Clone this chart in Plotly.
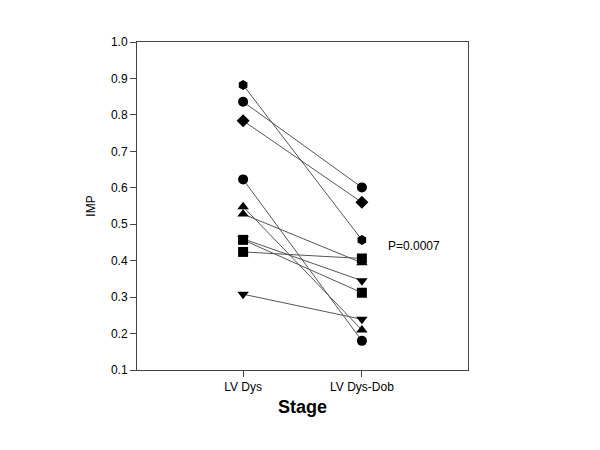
import plotly.graph_objects as go

stages = ["LV Dys", "LV Dys-Dob"]
symbols = ["hexagon", "circle", "diamond", "circle", "triangle-up",
           "triangle-up", "triangle-down", "square", "square", "triangle-down"]
imp_dys = [0.882, 0.836, 0.784, 0.623, 0.548, 0.528, 0.460, 0.457, 0.424, 0.308]
imp_dob = [0.457, 0.601, 0.560, 0.180, 0.210, 0.394, 0.345, 0.312, 0.406, 0.239]
p_text = "P=0.0007"

fig = go.Figure()
for sym, a, b in zip(symbols, imp_dys, imp_dob):
    fig.add_trace(go.Scatter(
        x=[0, 1], y=[a, b], mode="lines+markers",
        line=dict(color="#555555", width=1),
        marker=dict(symbol=sym, size=10, color="black", line=dict(width=0)),
        showlegend=False, hoverinfo="y"))

fig.add_annotation(x=1.2, y=0.44, xref="x", yref="y", text=p_text,
                   showarrow=False, xanchor="left",
                   font=dict(family="Liberation Sans, Arial", size=12, color="black"))

fig.update_layout(
    width=600, height=450,
    margin=dict(l=129, r=140, t=34, b=88),
    paper_bgcolor="white", plot_bgcolor="white",
    font=dict(family="Liberation Sans, Arial", size=12, color="black"),
    xaxis=dict(range=[-0.893, 1.893], tickvals=[0, 1], ticktext=stages,
               showgrid=False, zeroline=False, showline=True, mirror=True,
               linecolor="#444444", linewidth=1, ticks="outside", ticklen=6,
               tickcolor="#444444",
               title=dict(text="<b>Stage</b>", font=dict(size=18), standoff=6)),
    yaxis=dict(range=[0.1, 1.0], dtick=0.1, tickformat=".1f",
               showgrid=False, zeroline=False, showline=True, mirror=True,
               linecolor="#444444", linewidth=1, ticks="outside", ticklen=6,
               tickcolor="#444444",
               title=dict(text="IMP", font=dict(size=12), standoff=12)),
)

fig.write_html("out.html")
